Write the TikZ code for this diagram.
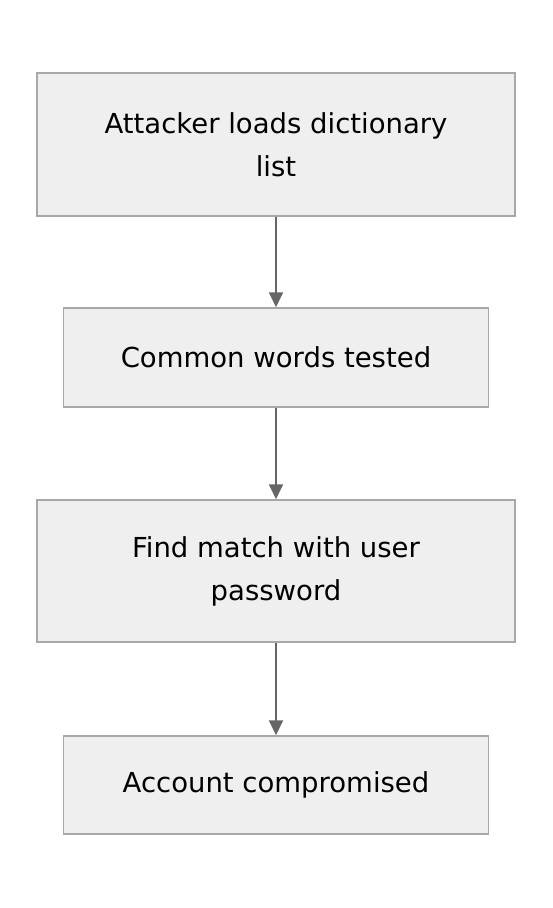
\documentclass[tikz,border=0pt]{standalone}
\usepackage{fontspec}
\setmainfont{DejaVu Sans}
\usetikzlibrary{arrows.meta}
\definecolor{boxfill}{HTML}{EFEFEF}
\definecolor{boxline}{HTML}{A8A8A8}
\definecolor{arrowc}{HTML}{666666}
\begin{document}
\begin{tikzpicture}[x=1pt,y=-1pt,
  stepbox/.style={draw=boxline,fill=boxfill,line width=1.5pt,align=center,font=\fontsize{27.5}{43}\selectfont,inner sep=0pt},
  conn/.style={draw=arrowc,line width=2pt,-{Triangle[length=15pt,width=14pt]}}]
\useasboundingbox[fill=white] (0,0) rectangle (552,908);
\node[stepbox,minimum width=478pt,minimum height=143pt] (a) at (276,144.5) {Attacker loads dictionary\\list};
\node[stepbox,minimum width=425pt,minimum height=99pt] (b) at (276,357.5) {Common words tested};
\node[stepbox,minimum width=478pt,minimum height=142pt] (c) at (276,571) {Find match with user\\password};
\node[stepbox,minimum width=425pt,minimum height=98pt] (d) at (276,785) {Account compromised};
\draw[conn] (a.south) -- (b.north);
\draw[conn] (b.south) -- (c.north);
\draw[conn] (c.south) -- (d.north);
\end{tikzpicture}
\end{document}
